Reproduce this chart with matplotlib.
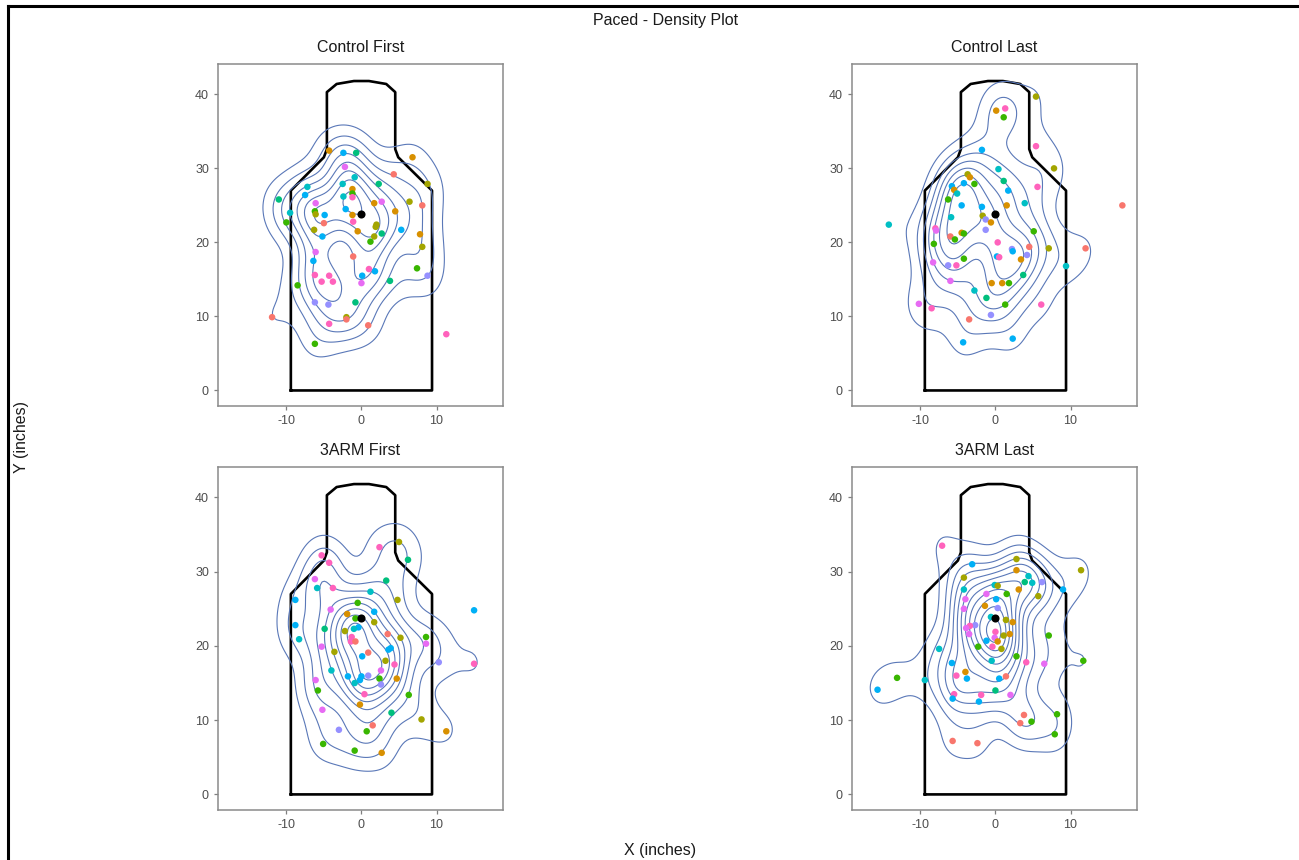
import numpy as np
import matplotlib.pyplot as plt
from matplotlib.lines import Line2D

plt.rcParams['font.family'] = ['Liberation Sans', 'DejaVu Sans']
plt.rcParams['axes.unicode_minus'] = False

# shot positions (inches) and shooter group per panel
cf_x = [-4.3, -2.4, -0.7, 6.8, -2.2, -0.9, 4.3, -2.5, 2.3, -7.2, 8.8, -1.2, -1.2, -7.5, -2.4, -1.2, -11.0,
        -6.1, 1.7, 2.7, 6.4, 8.1, -2.1, -9.5, -6.2, -6.1, -4.9, -1.2, 4.5, -10.0, -5.0, -1.1, 2.0, 1.9,
        -6.3, -0.5, 5.3, 7.8, -5.2, 2.7, 1.7, 1.2, 8.1, -6.1, -1.1, -6.4, 7.4, 1.0, 1.8, -6.2, -4.3, 0.1,
        8.8, -5.3, -3.8, 0.0, 3.8, -8.5, -6.2, -4.4, -0.8, -11.9, -2.0, -2.0, -4.3, 0.9, 11.3, -6.2]
cf_y = [32.4, 32.1, 32.1, 31.5, 30.2, 28.8, 29.2, 27.9, 27.9, 27.5, 27.9, 27.2, 26.6, 26.4, 26.2, 26.1, 25.8,
        25.3, 25.3, 25.5, 25.5, 25.0, 24.5, 24.0, 24.2, 23.8, 23.7, 23.7, 24.2, 22.7, 22.6, 22.8, 22.4, 22.1,
        21.7, 21.5, 21.7, 21.1, 20.8, 21.2, 20.8, 20.1, 19.4, 18.7, 18.1, 17.5, 16.5, 16.4, 16.1, 15.6, 15.5,
        15.5, 15.5, 14.7, 14.7, 14.5, 14.8, 14.2, 11.9, 11.6, 11.9, 9.9, 9.9, 9.6, 9.0, 8.8, 7.6, 6.3]
cf_g = [1, 6, 4, 1, 8, 5, 0, 5, 4, 5, 2, 1, 3, 6, 5, 9, 4,
        8, 1, 8, 2, 0, 6, 5, 3, 2, 6, 1, 1, 3, 0, 9, 2, 2,
        2, 1, 6, 1, 6, 4, 2, 3, 2, 8, 0, 6, 3, 9, 6, 9, 9,
        6, 7, 9, 9, 8, 4, 3, 7, 7, 4, 0, 2, 0, 9, 0, 9, 3]

cl_x = [5.4, 0.1, 1.3, 1.1, 5.4, -1.8, 7.8, 0.4, -3.7, -3.4, 1.1, -4.2, -2.8, -5.8, 5.6, 1.7, -5.5,
        -5.1, -6.3, 3.9, -4.5, 1.5, 16.9, -1.8, -5.9, -1.7, -1.3, -0.6, -14.2, -8.0, -7.9, -1.3, 5.1, -4.5,
        -4.2, -6.0, -5.4, 0.3, -8.2, 2.2, 2.3, 4.5, 7.1, 12.0, 4.2, 0.2, 0.5, 3.4, -4.2, -8.3, -6.3,
        -5.2, 9.4, 3.7, -6.0, -0.5, 0.9, 1.8, -2.8, -1.2, -10.2, 1.3, 6.1, -8.5, -0.6, -3.5, -4.3, 2.3]
cl_y = [39.7, 37.8, 38.1, 36.9, 33.0, 32.5, 30.0, 29.9, 29.2, 28.8, 28.3, 28.0, 27.9, 27.6, 27.5, 27.0, 27.1,
        26.6, 25.8, 25.3, 25.0, 25.0, 25.0, 24.8, 23.4, 23.6, 23.1, 22.7, 22.4, 21.9, 21.6, 21.7, 21.5, 21.3,
        21.2, 20.8, 20.4, 20.0, 19.8, 19.1, 18.8, 19.4, 19.2, 19.2, 18.3, 18.1, 18.0, 17.7, 17.8, 17.3, 16.9,
        16.9, 16.8, 15.6, 14.8, 14.5, 14.5, 14.5, 13.5, 12.5, 11.7, 11.6, 11.6, 11.1, 10.2, 9.6, 6.5, 7.0]
cl_g = [2, 1, 9, 3, 9, 6, 2, 5, 2, 1, 4, 6, 3, 6, 9, 6, 1,
        5, 3, 5, 6, 1, 0, 6, 5, 2, 7, 1, 5, 9, 8, 7, 3, 1,
        3, 0, 3, 9, 3, 7, 6, 0, 2, 0, 7, 6, 9, 1, 3, 8, 7,
        9, 5, 4, 8, 1, 1, 3, 5, 4, 8, 3, 9, 9, 7, 0, 6, 6]

af_x = [5.0, 2.4, -5.3, 6.2, -4.3, -6.2, 3.3, -5.9, -3.8, 1.2, -8.8, 4.8, -0.5, -4.1, 1.7, -1.9, -0.8,
        1.7, -8.8, -0.4, -1.0, -4.9, -2.2, 3.5, -1.3, 5.2, 8.6, -8.3, -1.4, -0.8, -5.3, 3.9, 3.6, 8.6,
        0.9, -3.6, 0.1, 3.2, 10.3, 15.0, 15.0, 4.4, 2.6, -4.0, 0.9, -1.8, 0.0, 2.4, 4.7, -6.1, -0.2,
        -0.9, 2.6, -5.8, 0.4, 6.3, -0.2, 4.0, -5.2, 8.0, 1.5, -3.0, 0.7, 11.3, -5.1, -0.9, 2.7]
af_y = [34.0, 33.3, 32.2, 31.6, 31.2, 29.0, 28.8, 27.8, 27.8, 27.3, 26.2, 26.2, 25.8, 24.9, 24.6, 24.3, 23.7,
        23.2, 22.8, 22.5, 22.3, 22.3, 22.0, 21.6, 21.2, 21.1, 21.2, 20.9, 20.6, 20.6, 19.9, 19.7, 19.5, 20.3,
        19.1, 19.2, 18.6, 18.0, 17.8, 17.6, 24.8, 17.5, 16.7, 16.7, 16.0, 15.9, 15.9, 15.6, 15.6, 15.4, 15.4,
        15.0, 14.8, 14.0, 13.5, 13.4, 12.1, 11.0, 11.4, 10.1, 9.3, 8.7, 8.5, 8.5, 6.8, 5.9, 5.6]
af_g = [2, 9, 9, 4, 9, 8, 4, 5, 9, 5, 6, 2, 3, 8, 6, 1, 3,
        2, 6, 6, 5, 4, 2, 0, 9, 2, 3, 5, 9, 0, 8, 6, 6, 8,
        0, 2, 6, 2, 7, 9, 6, 9, 8, 5, 7, 6, 6, 3, 1, 8, 6,
        5, 7, 3, 9, 3, 1, 4, 8, 2, 0, 7, 3, 1, 3, 3, 1]

al_x = [-7.1, 2.8, -3.1, 11.4, 2.8, -4.2, 4.4, 3.9, 4.9, 6.2, -0.1, 0.3, -4.2, 3.1, 1.5, -1.2, 5.7,
        9.0, -4.0, 0.1, -4.2, -1.4, 0.3, -0.6, 1.4, 2.3, -2.7, -3.4, -3.9, 7.1, 1.9, 1.1, 0.0, -0.1,
        -3.5, -1.2, 0.3, -0.4, -2.3, 0.8, -7.5, 2.8, -0.5, 11.7, -5.8, 4.1, 6.5, -4.0, -5.2, -13.1, 0.5,
        1.4, -3.8, -9.4, -15.7, 0.0, -5.5, -1.9, 2.0, -5.7, -2.2, 3.8, 8.2, 3.3, 4.8, 7.9, -5.7, -2.4]
al_y = [33.5, 31.7, 31.0, 30.2, 30.2, 29.2, 29.4, 28.6, 28.5, 28.6, 28.2, 28.1, 27.6, 27.6, 27.0, 27.0, 26.7,
        27.6, 26.3, 26.3, 25.0, 25.4, 25.1, 23.9, 23.5, 23.2, 22.8, 22.7, 22.4, 21.4, 21.6, 21.4, 21.9, 21.1,
        21.6, 20.7, 20.6, 19.9, 19.9, 19.6, 19.6, 18.6, 18.0, 18.0, 17.7, 17.8, 17.6, 16.5, 16.0, 15.7, 15.6,
        15.9, 15.6, 15.4, 14.1, 14.0, 13.5, 13.4, 13.4, 12.9, 12.5, 10.7, 10.8, 9.6, 9.8, 8.1, 7.2, 6.9]
al_g = [9, 2, 6, 2, 1, 2, 5, 4, 5, 7, 5, 2, 5, 1, 3, 8, 2,
        6, 8, 6, 8, 1, 7, 5, 2, 1, 7, 9, 8, 3, 1, 2, 9, 8,
        8, 6, 1, 9, 3, 2, 5, 3, 5, 3, 6, 9, 8, 1, 9, 3, 6,
        0, 6, 5, 6, 4, 9, 9, 8, 6, 6, 0, 3, 0, 3, 3, 0, 0]

titles = ['Control First', 'Control Last', '3ARM First', '3ARM Last']
panels = [(cf_x, cf_y, cf_g), (cl_x, cl_y, cl_g), (af_x, af_y, af_g), (al_x, al_y, al_g)]

# point of aim
aim_x, aim_y = 0.0, 23.8

# silhouette target outline
target_x = [-9.4, -9.4, -5.0, -4.6, -4.6, -3.3, -1.0, 1.0, 3.3, 4.5, 4.5, 4.9, 9.4, 9.4, -9.4]
target_y = [0, 27.0, 31.5, 32.6, 40.3, 41.4, 41.8, 41.8, 41.4, 40.3, 32.6, 31.5, 27.0, 0, 0]

hue = ['#F8766D', '#D89000', '#A3A500', '#39B600', '#00BF7D',
       '#00BFC4', '#00B0F6', '#9590FF', '#E76BF3', '#FF62BC']

xlim = (-19.1, 18.85)
ylim = (-2.1, 44.1)
adjust = 0.9


def bw_nrd(v):
    q75, q25 = np.percentile(v, [75, 25])
    return 4 * 1.06 * min(np.std(v, ddof=1), (q75 - q25) / 1.34) * len(v) ** (-0.2)


def kde2d(x, y, gx, gy):
    x = np.asarray(x)
    y = np.asarray(y)
    hx = adjust * bw_nrd(x) / 4
    hy = adjust * bw_nrd(y) / 4
    kx = np.exp(-0.5 * ((gx[:, None] - x[None, :]) / hx) ** 2) / (hx * np.sqrt(2 * np.pi))
    ky = np.exp(-0.5 * ((gy[:, None] - y[None, :]) / hy) ** 2) / (hy * np.sqrt(2 * np.pi))
    return (ky @ kx.T) / len(x)


gx = np.linspace(-17.4, 17.1, 120)
gy = np.linspace(0, 42, 120)
dens = [kde2d(p[0], p[1], gx, gy) for p in panels]

# same contour breaks for all panels
zmax = max(d.max() for d in dens)
step = zmax / 11.5
levels = np.arange(step, zmax, step)

fig = plt.figure(figsize=(12.99, 8.6), dpi=100)
W, H = 1299, 860
boxes = [(218, 64, 503, 406), (852, 64, 1137, 406), (218, 467, 503, 810), (852, 467, 1137, 810)]

for i, (x, y, g) in enumerate(panels):
    l, t, r, b = boxes[i]
    ax = fig.add_axes([l / W, 1 - b / H, (r - l) / W, (b - t) / H])
    ax.plot(target_x, target_y, color='black', lw=1.9, zorder=2)
    ax.contour(gx, gy, dens[i], levels=levels, colors='#5a78b8', linewidths=0.8, zorder=3)
    ax.scatter(x, y, c=[hue[k] for k in g], s=22, linewidths=0, zorder=4)
    ax.scatter([aim_x], [aim_y], c='black', s=34, linewidths=0, zorder=5)
    ax.set_xlim(xlim)
    ax.set_ylim(ylim)
    ax.set_xticks([-10, 0, 10])
    ax.set_yticks([0, 10, 20, 30, 40])
    ax.tick_params(colors='#7f7f7f', labelcolor='#4d4d4d', labelsize=9, length=3, width=0.9)
    for s in ax.spines.values():
        s.set_color('#8a8a8a')
        s.set_linewidth(1.1)
    fig.text((l + r) / 2 / W, 1 - (t - 17) / H, titles[i], ha='center', va='center',
             fontsize=11.5, color='#1a1a1a')

fig.text(666 / W, 1 - 20 / H, 'Paced - Density Plot', ha='center', va='center', fontsize=11.5, color='#1a1a1a')
fig.text(660 / W, 1 - 851 / H, 'X (inches)', ha='center', va='center', fontsize=11.5, color='#1a1a1a')
fig.text(22 / W, 1 - 437 / H, 'Y (inches)', ha='center', va='center', rotation=90,
         fontsize=11.5, color='#1a1a1a')

# frame on left and top edge
fig.add_artist(Line2D([7.5 / W, 7.5 / W], [0, 1 - 5.5 / H], color='black', lw=2.2, transform=fig.transFigure))
fig.add_artist(Line2D([7.5 / W, 1], [1 - 5.5 / H, 1 - 5.5 / H], color='black', lw=2.2, transform=fig.transFigure))

fig.savefig('out.png', dpi=100)
